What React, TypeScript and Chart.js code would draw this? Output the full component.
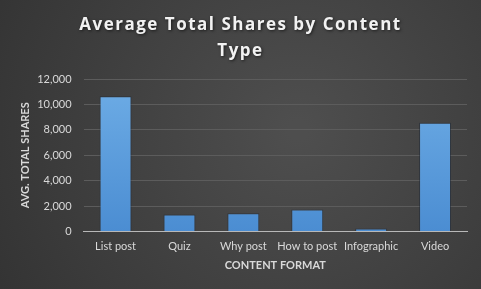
import React, { useEffect, useRef } from "react";
import { Chart, registerables } from "chart.js";

Chart.register(...registerables);

const categories = ["List post", "Quiz", "Why post", "How to post", "Infographic", "Video"];
const avgShares = [10650, 1340, 1450, 1740, 240, 8550];
const titleLines = ["Average Total Shares by Content", "Type"];
const yTitle = "AVG. TOTAL SHARES";
const xTitle = "CONTENT FORMAT";

const bgPlugin = {
  id: "bgPlugin",
  beforeDraw(chart: any) {
    const { ctx, width, height } = chart;
    ctx.save();
    const g = ctx.createRadialGradient(width * 0.62, height * 0.45, 10, width * 0.62, height * 0.45, width * 0.75);
    g.addColorStop(0, "#4e4e4e");
    g.addColorStop(1, "#323232");
    ctx.fillStyle = g;
    ctx.fillRect(0, 0, width, height);
    ctx.restore();
  },
};

const titlePlugin = {
  id: "titlePlugin",
  afterDraw(chart: any) {
    const { ctx, width } = chart;
    ctx.save();
    ctx.font = "bold 17px 'Open Sans'";
    (ctx as any).letterSpacing = "1.5px";
    ctx.fillStyle = "#f2f2f2";
    ctx.textAlign = "center";
    ctx.textBaseline = "middle";
    ctx.shadowColor = "rgba(0,0,0,0.6)";
    ctx.shadowBlur = 3;
    ctx.shadowOffsetX = 1;
    ctx.shadowOffsetY = 1;
    ctx.fillText(titleLines[0], width / 2, 25);
    ctx.fillText(titleLines[1], width / 2, 51);
    ctx.restore();
  },
};

export default function App() {
  const ref = useRef<HTMLCanvasElement | null>(null);
  useEffect(() => {
    document.body.style.margin = "0";
    const canvas = ref.current!;
    const chart = new Chart(canvas, {
      type: "bar",
      data: {
        labels: categories,
        datasets: [
          {
            data: avgShares,
            backgroundColor: (c: any) => {
              const area = c.chart.chartArea;
              if (!area) return "#5b9bd5";
              const g = c.chart.ctx.createLinearGradient(0, area.top, 0, area.bottom);
              g.addColorStop(0, "#6eade6");
              g.addColorStop(1, "#4b8dd2");
              return g;
            },
            borderColor: "rgba(30,40,55,0.55)",
            borderWidth: 1,
            borderSkipped: "bottom",
            categoryPercentage: 1,
            barPercentage: 0.5,
          },
        ],
      },
      options: {
        animation: false,
        responsive: false,
        maintainAspectRatio: false,
        layout: { padding: { left: 19, right: 14, top: 79, bottom: 17 } },
        plugins: {
          legend: { display: false },
          tooltip: { enabled: false },
          title: { display: false },
        },
        scales: {
          x: {
            grid: { display: false, drawTicks: false },
            border: { display: true, color: "#b8b8b8", width: 1 },
            ticks: {
              color: "#d9d9d9",
              font: { family: "Lato", size: 11 },
              padding: 8,
              maxRotation: 0,
              autoSkip: false,
            },
            title: {
              display: true,
              text: xTitle,
              color: "#d9d9d9",
              font: { family: "Lato", size: 11, weight: "bold" },
              padding: { top: -2, bottom: 0 },
            },
          },
          y: {
            min: 0,
            max: 12000,
            ticks: {
              stepSize: 2000,
              color: "#d9d9d9",
              font: { family: "Lato", size: 11 },
              padding: 12,
              callback: (v: any) => Number(v).toLocaleString("en-US"),
            },
            grid: { color: "#5c5c5c", drawTicks: false, lineWidth: 1 },
            border: { display: false },
            title: {
              display: true,
              text: yTitle,
              color: "#d9d9d9",
              font: { family: "Lato", size: 11, weight: "bold" },
              padding: { top: 0, bottom: -7 },
            },
          },
        },
      },
      plugins: [bgPlugin, titlePlugin],
    } as any);
    return () => chart.destroy();
  }, []);
  return (
    <div style={{ position: "absolute", left: 0, top: 0, width: 481, height: 289 }}>
      <canvas ref={ref} width={481} height={289} style={{ display: "block" }} />
    </div>
  );
}
